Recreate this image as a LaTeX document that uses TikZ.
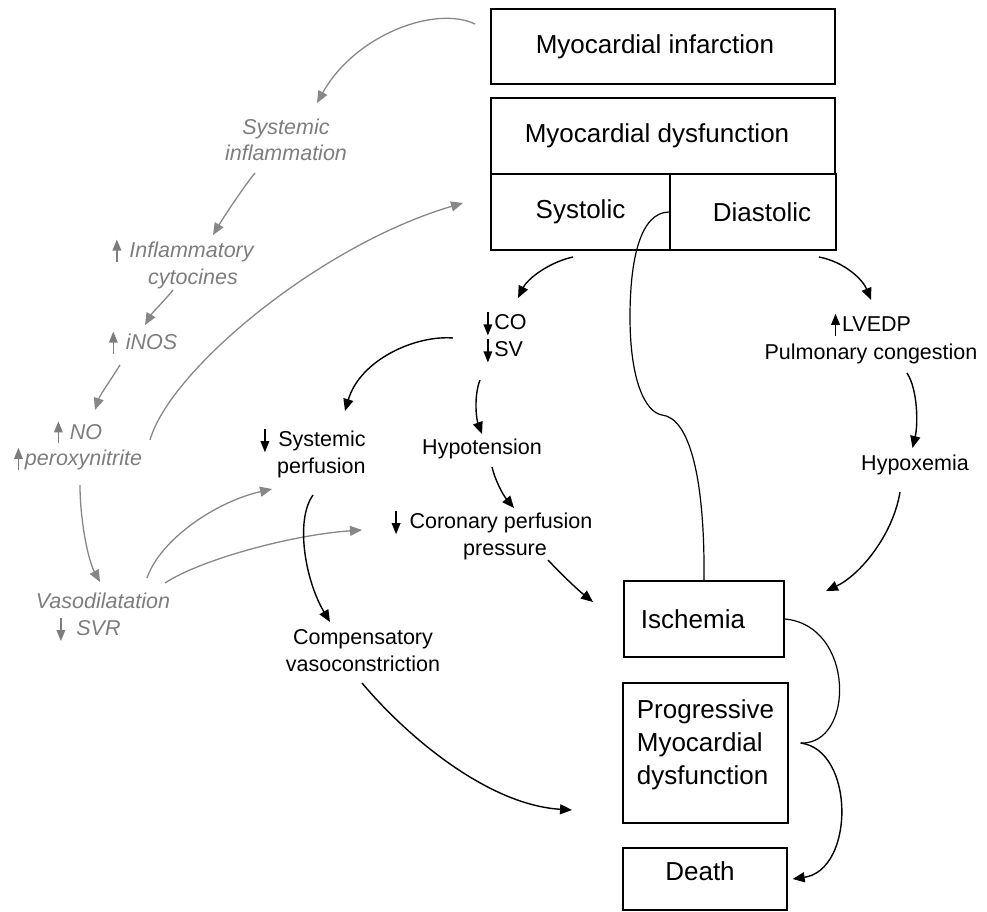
\documentclass[tikz,border=0pt]{standalone}
\usepackage{fontspec}
\setmainfont{Liberation Sans}
\usetikzlibrary{arrows.meta,calc}
\definecolor{gtext}{RGB}{125,125,125}
\definecolor{gline}{RGB}{135,135,135}
\newcommand\UpA[1][black]{\tikz[x=1pt,y=1pt,baseline=0pt]{\draw[draw=#1,line width=1.5pt] (0,-4)--(0,8); \fill[#1] (-4.5,7)--(4.5,7)--(0,18)--cycle;}}
\newcommand\DnA[1][black]{\tikz[x=1pt,y=1pt,baseline=0pt]{\draw[draw=#1,line width=1.5pt] (0,17)--(0,4); \fill[#1] (-4.5,5)--(4.5,5)--(0,-6)--cycle;}}
\begin{document}
\begin{tikzpicture}[x=1pt,y=-1pt,
 box/.style={draw, line width=1.3pt, inner sep=0pt, font=\fontsize{26}{33}\selectfont},
 glab/.style={text=gtext, font=\fontsize{21.5}{26.5}\selectfont\itshape, align=center, inner sep=0pt},
 blab/.style={text=black, font=\fontsize{21.5}{27}\selectfont, align=center, inner sep=0pt},
 garr/.style={draw=gline, line width=1.3pt, -{Triangle[length=12pt,width=10pt]}},
 barr/.style={draw=black, line width=1.4pt, -{Triangle[length=12pt,width=10pt]}},
 bline/.style={draw=black, line width=1.2pt},
]
\useasboundingbox (0,0) rectangle (987,912);
% boxes
\node[box, minimum width=344pt, minimum height=75pt] (mi) at (663,46.5) {Myocardial infarction\hspace*{16pt}};
\node[box, minimum width=344pt, minimum height=76pt] (md) at (663,136) {Myocardial dysfunction\hspace*{12pt}};
\node[box, minimum width=179pt, minimum height=76pt] (sys) at (580.5,212) {Systolic};
\node[box, minimum width=166pt, minimum height=76pt] (dia) at (753,212) {\hspace*{18pt}Diastolic};
\node[box, minimum width=160pt, minimum height=76pt, align=left] (isch) at (704,619) {Ischemia\hspace*{22pt}};
\node[box, minimum width=165pt, minimum height=140pt, align=left, text depth=21pt] (prog) at (705.5,753) {Progressive\\Myocardial\\dysfunction};
\node[box, minimum width=164pt, minimum height=62pt, text depth=15pt] (death) at (705,879) {Death\hspace*{10pt}};
% gray labels
\node[glab] (si) at (286,140) {Systemic\\inflammation};
\node[glab] (ic) at (183,264) {\UpA[gtext]\hspace{8pt}Inflammatory\\\hspace*{20pt}cytocines};
\node[glab] (inos) at (143,343) {\UpA[gtext]\hspace{8pt}iNOS};
\node[glab] (no) at (78,446) {\UpA[gtext]\hspace{7pt}NO\\\UpA[gtext]\hspace{2pt}peroxynitrite};
\node[glab] (vaso) at (103,617) {Vasodilatation\\\DnA[gtext]\hspace{11pt}SVR\hspace*{29pt}};
% black labels
\node[blab, align=left] (co) at (505,337) {\DnA\hspace{2pt}CO\\\DnA\hspace{2pt}SV};
\node[blab, font=\fontsize{21.5}{28}\selectfont] (lvedp) at (871,339) {\UpA\hspace{2pt}LVEDP\\Pulmonary congestion};
\node[blab, align=right] (sp) at (313,453) {\DnA\hspace{9pt}Systemic\\perfusion};
\node[blab] (hypo) at (482,449) {Hypotension};
\node[blab] (cpp) at (492,535) {\DnA\hspace{9pt}Coronary perfusion\\\hspace*{26pt}pressure};
\node[blab] (hypox) at (915,465) {Hypoxemia};
\node[blab] (comp) at (363,651) {Compensatory\\vasoconstriction};
% gray connectors
\draw[garr] ($(mi)+(-188,-22.5)$) .. controls (435,5) and (355,35) .. ($(si)+(31,-37)$);
\draw[garr] ($(si)+(-31,33)$) .. controls (245,185) and (225,215) .. ($(ic)+(30,-29)$);
\draw[garr] ($(ic)+(-10,26)$) .. controls (165,300) and (152,313) .. ($(inos)+(2,-18)$);
\draw[garr] ($(inos)+(-23,22)$) .. controls (112,378) and (100,395) .. ($(no)+(17,-36)$);
\draw[garr] ($(no)+(2,39)$) .. controls (80,520) and (88,560) .. ($(vaso)+(-3,-35)$);
\draw[garr] ($(no)+(72,-6)$) .. controls (170,370) and (320,245) .. ($(sys)+(-117.5,-9)$);
\draw[garr] ($(vaso)+(44,-39)$) .. controls (160,540) and (215,502) .. ($(sp)+(-41,36)$);
\draw[garr] ($(vaso)+(62,-34)$) .. controls (200,560) and (290,535) .. ($(cpp)+(-130,-5)$);
% black connectors
\draw[barr] ($(sys)+(-7.5,45)$) .. controls (550,262) and (528,278) .. ($(co)+(13,-39)$);
\draw[barr] ($(dia)+(66,45)$) .. controls (845,262) and (863,280) .. ($(lvedp)+(0,-39)$);
\draw[barr] ($(co)+(-52,1)$) .. controls (415,335) and (360,360) .. ($(sp)+(32,-42)$);
\draw[barr] ($(co)+(-25,43)$) .. controls (474,395) and (476,418) .. ($(hypo)+(0,-15)$);
\draw[barr] ($(hypo)+(10,18)$) .. controls (495,480) and (503,495) .. ($(cpp)+(22,-27)$);
\draw[barr] ($(cpp)+(56,25)$) .. controls (562,575) and (578,590) .. ($(isch)+(-111,-17)$);
\draw[barr] ($(sp)+(0,42)$) .. controls (295,520) and (305,580) .. ($(comp)+(-33,-29)$);
\draw[barr] ($(comp)+(-1,32)$) .. controls (410,740) and (490,805) .. ($(prog)+(-133.5,57)$);
\draw[barr] ($(lvedp)+(36,34)$) .. controls (918,390) and (918,425) .. ($(hypox)+(-2.5,-17)$);
\draw[barr] ($(hypox)+(-15,27)$) .. controls (893,535) and (860,575) .. ($(isch)+(122,-28)$);
% plain connections
\draw[bline] (dia.west) .. controls (640,212) and (630,260) .. (630,317) .. controls (630,380) and (645,412) .. (662,415) .. controls (690,418) and (705,480) .. (isch.north);
\coordinate (brace) at ($(prog.east)+(12,-10)$);
\draw[bline] (isch.east) .. controls (855,625) and (855,745) .. (brace);
\draw[barr] (brace) .. controls (855,750) and (855,870) .. ($(death.east)+(5,0)$);
\end{tikzpicture}
\end{document}
